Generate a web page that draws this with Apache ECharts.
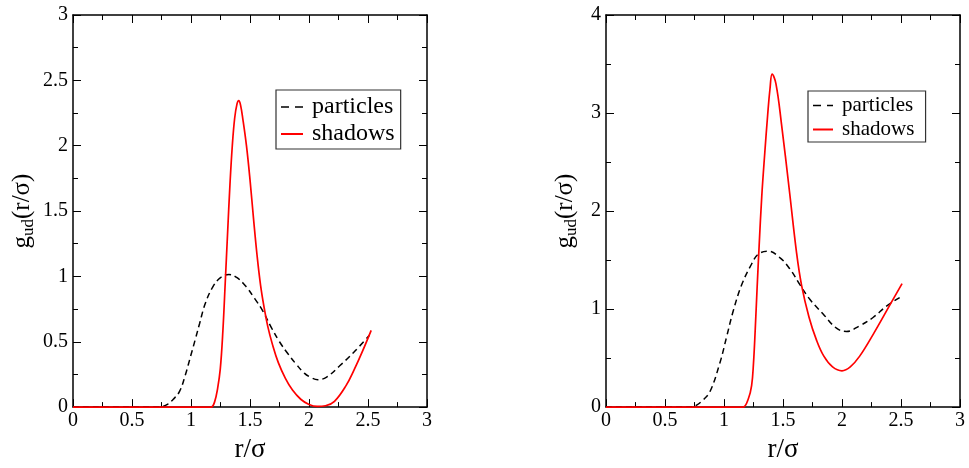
<!DOCTYPE html>
<html>
<head>
<meta charset="utf-8">
<script src="https://cdn.jsdelivr.net/npm/echarts@6/dist/echarts.min.js"></script>
<style>html,body{margin:0;padding:0;background:#fff}#c{width:969px;height:468px}</style>
</head>
<body>
<div id="c"></div>
<script>
// ---- data ----
const xTicks = [0, 0.5, 1, 1.5, 2, 2.5, 3];
const leftParticlesR = [0, 0.72, 0.76, 0.8, 0.85, 0.903, 0.95, 1.0, 1.04, 1.073, 1.12, 1.185, 1.25, 1.321, 1.39, 1.468, 1.54, 1.609, 1.68, 1.75, 1.82, 1.89, 1.96, 2.02, 2.075, 2.15, 2.258, 2.38, 2.512];
const leftParticlesG = [0, 0, 0.005, 0.02, 0.06, 0.12, 0.24, 0.4, 0.53, 0.64, 0.79, 0.92, 0.99, 1.015, 0.99, 0.92, 0.83, 0.735, 0.61, 0.5, 0.41, 0.33, 0.26, 0.225, 0.21, 0.23, 0.314, 0.42, 0.55];
const leftShadowsR = [0, 1.12, 1.172, 1.2, 1.225, 1.248, 1.27, 1.29, 1.31, 1.33, 1.35, 1.37, 1.39, 1.405, 1.42, 1.44, 1.47, 1.5, 1.53, 1.56, 1.59, 1.62, 1.65, 1.69, 1.74, 1.8, 1.86, 1.93, 2.0, 2.07, 2.14, 2.216, 2.315, 2.385, 2.45, 2.527];
const leftShadowsG = [0, 0, 0, 0.04, 0.14, 0.29, 0.58, 0.95, 1.33, 1.7, 2.0, 2.21, 2.32, 2.345, 2.31, 2.2, 2.0, 1.74, 1.44, 1.16, 0.93, 0.76, 0.62, 0.48, 0.34, 0.22, 0.13, 0.06, 0.02, 0.005, 0.01, 0.044, 0.166, 0.29, 0.42, 0.587];
const rightParticlesR = [0, 0.72, 0.768, 0.82, 0.88, 0.965, 1.022, 1.078, 1.149, 1.234, 1.29, 1.374, 1.473, 1.558, 1.643, 1.727, 1.84, 1.953, 2.038, 2.15, 2.263, 2.377, 2.504];
const rightParticlesG = [0, 0, 0.02, 0.07, 0.155, 0.45, 0.716, 0.98, 1.245, 1.46, 1.56, 1.59, 1.525, 1.41, 1.25, 1.1, 0.95, 0.805, 0.772, 0.83, 0.914, 1.03, 1.129];
const rightShadowsR = [0, 1.12, 1.163, 1.205, 1.234, 1.25, 1.265, 1.28, 1.298, 1.32, 1.346, 1.37, 1.39, 1.408, 1.44, 1.487, 1.552, 1.615, 1.657, 1.72, 1.784, 1.846, 1.92, 2.0, 2.07, 2.15, 2.263, 2.405, 2.509];
const rightShadowsG = [0, 0, 0, 0.08, 0.22, 0.45, 0.8, 1.2, 1.65, 2.15, 2.6, 2.98, 3.25, 3.396, 3.3, 2.89, 2.23, 1.574, 1.245, 0.92, 0.683, 0.52, 0.41, 0.37, 0.41, 0.52, 0.74, 1.04, 1.26];
const seriesNames = ['particles', 'shadows'];
const xTitle = 'r/σ';

// ---- chart ----
const FONT = '"Liberation Serif", "DejaVu Serif", serif';
const zip = (a, b) => a.map((v, i) => [v, b[i]]);
const axisLineStyle = { color: '#000', width: 1.5 };

function xAxes(grid) {
  const base = {
    type: 'value', gridIndex: grid, min: 0, max: 3, interval: 0.5,
    axisLine: { show: true, onZero: false, lineStyle: axisLineStyle },
    axisTick: { show: true, inside: true, length: 8, lineStyle: { color: '#000', width: 1 } },
    minorTick: { show: true, splitNumber: 2, length: 5, lineStyle: { color: '#000', width: 1 } },
    splitLine: { show: false }, minorSplitLine: { show: false }
  };
  return [
    Object.assign({}, base, {
      position: 'bottom',
      axisLabel: { show: true, fontFamily: FONT, fontSize: 20, color: '#000', margin: 4, showMinLabel: true, showMaxLabel: true,
        formatter: v => String(xTicks.find(t => Math.abs(t - v) < 1e-9) ?? v) },
      name: xTitle, nameLocation: 'middle', nameGap: 22,
      nameTextStyle: { fontFamily: FONT, fontSize: 27, color: '#000', verticalAlign: 'top' }
    }),
    Object.assign({}, base, { position: 'top', axisLabel: { show: false } })
  ];
}
function yAxes(grid, max, interval, nameGap) {
  const base = {
    type: 'value', gridIndex: grid, min: 0, max: max, interval: interval,
    axisLine: { show: true, onZero: false, lineStyle: axisLineStyle },
    axisTick: { show: true, inside: true, length: 8, lineStyle: { color: '#000', width: 1 } },
    minorTick: { show: true, splitNumber: 2, length: 5, lineStyle: { color: '#000', width: 1 } },
    splitLine: { show: false }, minorSplitLine: { show: false }
  };
  return [
    Object.assign({}, base, {
      position: 'left',
      axisLabel: { show: true, fontFamily: FONT, fontSize: 20, color: '#000', margin: 5, showMinLabel: true, showMaxLabel: true },
      name: '{g|g}{sub|ud}{g|(r/σ)}', nameLocation: 'middle', nameGap: nameGap, nameRotate: 90,
      nameTextStyle: {
        fontFamily: FONT, color: '#000',
        rich: {
          g: { fontFamily: FONT, fontSize: 25, color: '#000', lineHeight: 30, verticalAlign: 'middle' },
          sub: { fontFamily: FONT, fontSize: 17, color: '#000', lineHeight: 30, verticalAlign: 'bottom', padding: [8, 0, 0, 0] }
        }
      }
    }),
    Object.assign({}, base, { position: 'right', axisLabel: { show: false } })
  ];
}
function lineSeries(name, grid, data, dashed) {
  return {
    name: name, type: 'line', xAxisIndex: grid * 2, yAxisIndex: grid * 2,
    data: data, showSymbol: false, symbol: 'none', smooth: 0.4,
    lineStyle: dashed ? { color: '#000', width: 1.5, type: [6, 4] } : { color: '#ff0000', width: 1.7 },
    itemStyle: { color: dashed ? '#000' : '#ff0000' },
    animation: false
  };
}
const legendBase = {
  orient: 'vertical', itemGap: 3, borderColor: '#333', borderWidth: 1.2, borderRadius: 0,
  backgroundColor: '#fff', selectedMode: false,
  itemStyle: { opacity: 0, borderWidth: 0 }
};
function legendData(suffix) {
  return [
    { name: seriesNames[0] + suffix, lineStyle: { type: [8, 6], width: 1.5 } },
    { name: seriesNames[1] + suffix }
  ];
}

const option = {
  backgroundColor: '#fff',
  animation: false,
  grid: [
    { left: 73, top: 15, width: 354, height: 404 },
    { left: 606, top: 15, width: 354, height: 404 }
  ],
  xAxis: xAxes(0).concat(xAxes(1)),
  yAxis: yAxes(0, 3, 0.5, 36).concat(yAxes(1, 4, 1, 26)),
  legend: [
    Object.assign({}, legendBase, {
      data: legendData(''), left: 276, top: 90,
      itemWidth: 22, itemHeight: 12, padding: [5, 6, 3, 4],
      textStyle: { fontFamily: FONT, fontSize: 24, color: '#000', lineHeight: 22, padding: [0, 0, 0, 4] }
    }),
    Object.assign({}, legendBase, {
      data: legendData(' '), left: 808, top: 91,
      itemWidth: 20, itemHeight: 12, padding: [4, 6, 2, 4],
      textStyle: { fontFamily: FONT, fontSize: 21, color: '#000', lineHeight: 21, padding: [0, 0, 0, 4] }
    })
  ],
  series: [
    lineSeries(seriesNames[0], 0, zip(leftParticlesR, leftParticlesG), true),
    lineSeries(seriesNames[1], 0, zip(leftShadowsR, leftShadowsG), false),
    lineSeries(seriesNames[0] + ' ', 1, zip(rightParticlesR, rightParticlesG), true),
    lineSeries(seriesNames[1] + ' ', 1, zip(rightShadowsR, rightShadowsG), false)
  ]
};
const chart = echarts.init(document.getElementById('c'), null, { renderer: 'canvas' });
chart.setOption(option);
</script>
</body>
</html>
